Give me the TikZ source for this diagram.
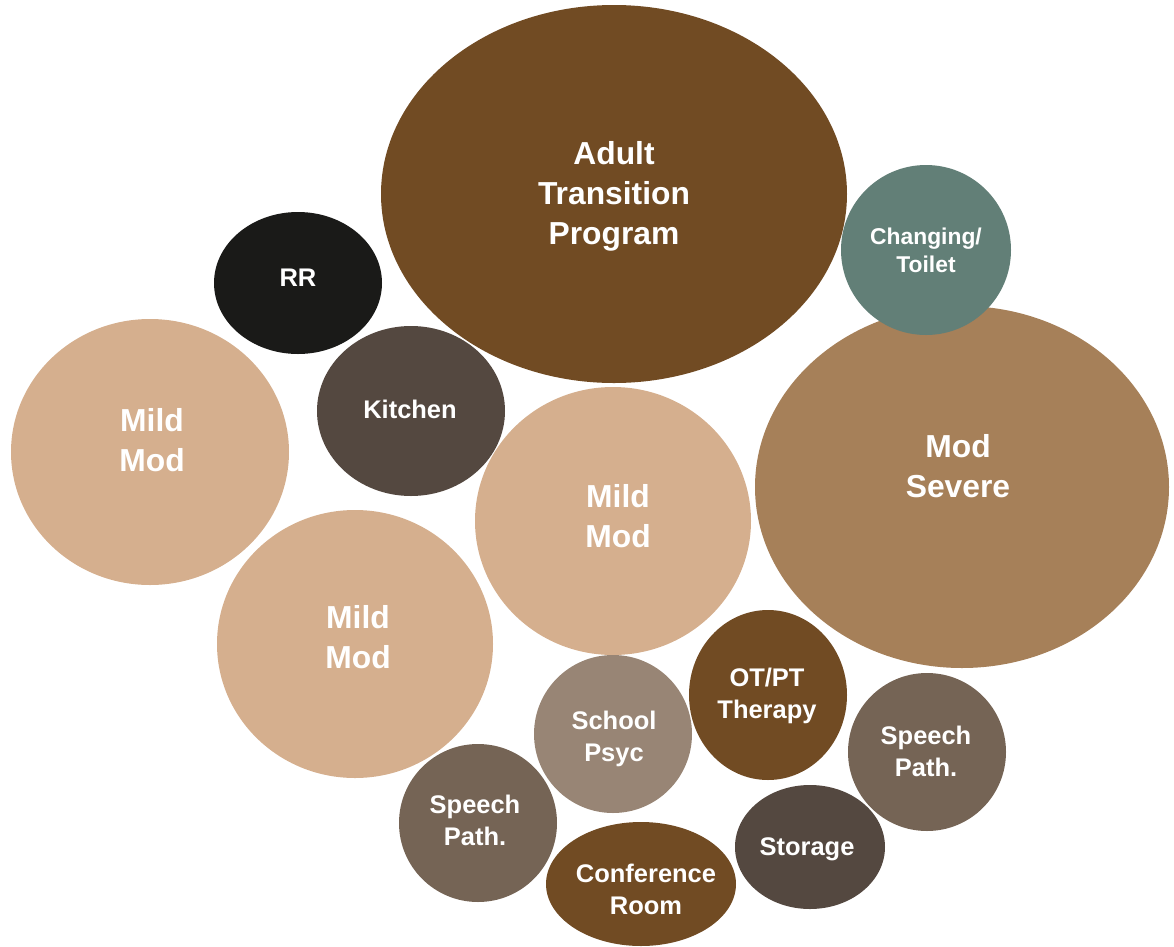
\documentclass[tikz,border=0pt]{standalone}
\usepackage{fontspec}
\setmainfont{Liberation Sans}
\definecolor{brownD}{HTML}{714B23}
\definecolor{tan}{HTML}{D5AF8E}
\definecolor{camel}{HTML}{A68059}
\definecolor{sage}{HTML}{627F77}
\definecolor{coal}{HTML}{1A1A18}
\definecolor{umber}{HTML}{544840}
\definecolor{taupe}{HTML}{988575}
\definecolor{mocha}{HTML}{756455}
\tikzset{
  lab/.style={text=white, align=center, inner sep=0pt, font=\bfseries},
  big/.style={lab, font=\bfseries\fontsize{18.1}{22.7}\selectfont},
  mid/.style={lab, font=\bfseries\fontsize{14.5}{18.1}\selectfont},
  sml/.style={lab, font=\bfseries\fontsize{13}{15.9}\selectfont},
}
% #1 name, #2 #3 centre, #4 #5 radii (px), #6 colour, #7 label style, #8 #9 label position, then text
\newcommand\bubble[9]{%
  \fill[#6] (#2,#3) ellipse [x radius=#4*0.02cm, y radius=#5*0.02cm];
  \node[#7] (#1) at (#8,#9)}
\begin{document}
\begin{tikzpicture}[x=0.02cm, y=-0.02cm]
\useasboundingbox (0,0) rectangle (1174,947);
\bubble{atp}{614}{194}{233}{189}{brownD}{big}{614}{196} {Adult\\Transition\\Program};
\bubble{sev}{962}{487}{207}{181}{camel}{big}{958}{466} {Mod\\Severe};
\bubble{chg}{926}{250}{85}{85}{sage}{sml}{926}{250} {Changing/\\Toilet};
\bubble{rr}{298}{283}{84}{71}{coal}{mid}{298}{278} {RR};
\bubble{kit}{411}{411}{94}{85}{umber}{mid}{410}{409} {Kitchen};
\bubble{mmA}{150}{452}{139}{133}{tan}{big}{152}{440} {Mild\\Mod};
\bubble{mmB}{613}{521}{138}{134}{tan}{big}{618}{516} {Mild\\Mod};
\bubble{mmC}{355}{644}{138}{134}{tan}{big}{358}{637} {Mild\\Mod};
\bubble{otpt}{768}{695}{79}{85}{brownD}{mid}{767}{696} {OT/PT\\Therapy};
\bubble{psy}{613}{734}{79}{79}{taupe}{mid}{614}{739} {School\\Psyc};
\bubble{spR}{927}{752}{79}{79}{mocha}{mid}{926}{751} {Speech\\Path.};
\bubble{spL}{478}{823}{79}{79}{mocha}{mid}{475}{820} {Speech\\Path.};
\bubble{sto}{810}{847}{75}{62}{umber}{mid}{807}{849} {Storage};
\bubble{conf}{641}{884}{95}{62}{brownD}{mid}{646}{889} {Conference\\Room};
\end{tikzpicture}
\end{document}
